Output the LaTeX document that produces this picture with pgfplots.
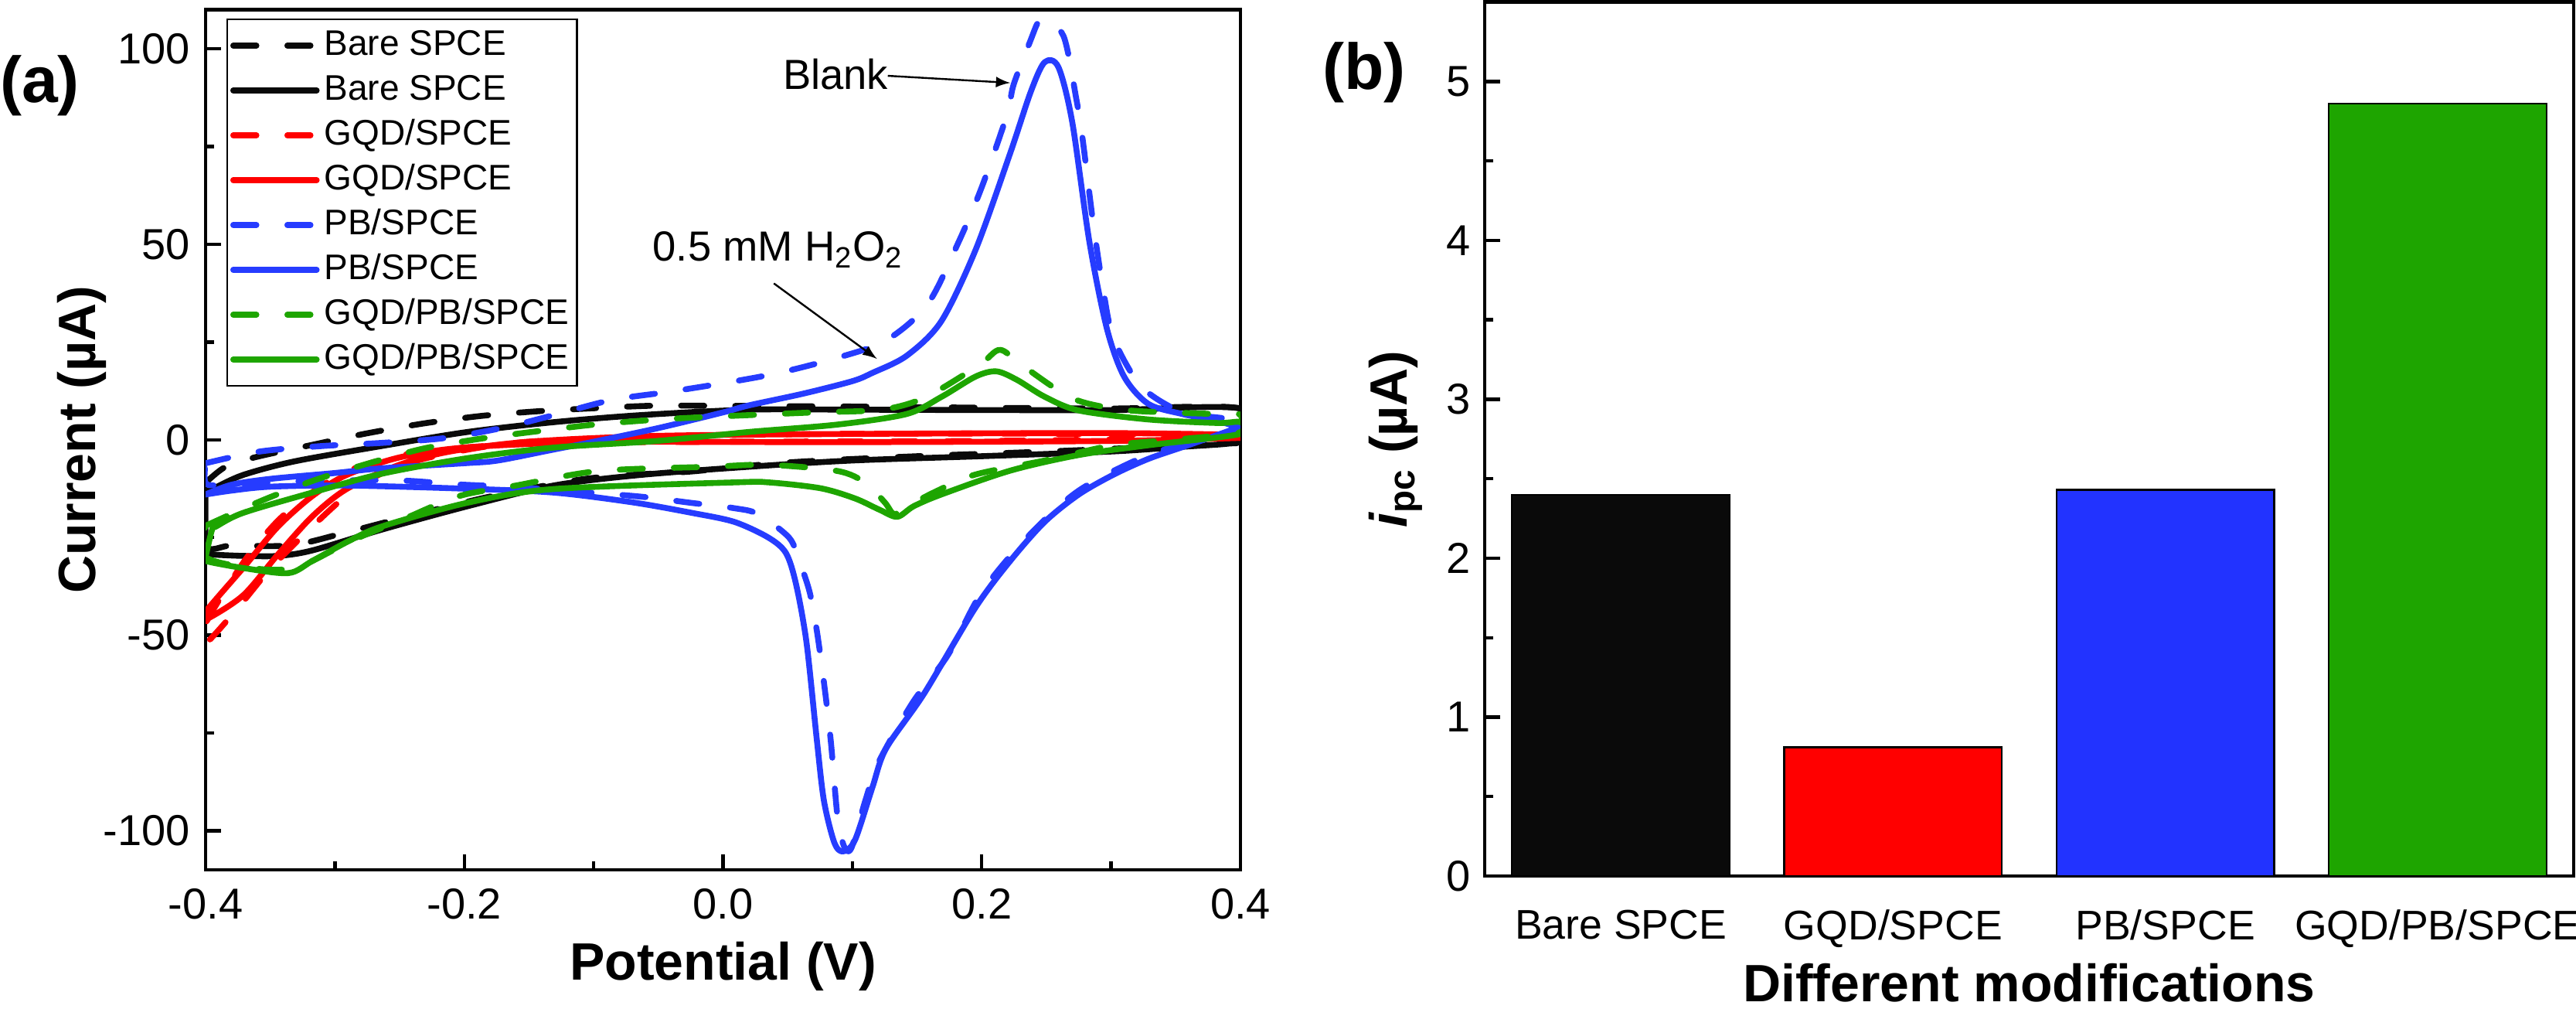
\documentclass[border=0pt]{standalone}
\usepackage{fontspec}
\setmainfont{Liberation Sans}
\usepackage{pgfplots}
\pgfplotsset{compat=1.18}
\definecolor{cvblack}{RGB}{10,10,10}
\definecolor{cvred}{RGB}{255,0,0}
\definecolor{cvblue}{RGB}{38,60,255}
\definecolor{cvgreen}{RGB}{30,165,0}
\definecolor{barblue}{RGB}{34,51,255}
\pgfplotsset{
  cvsolid/.style={line width=1.9pt, line cap=round, line join=round, smooth, tension=0.5},
  cvdash/.style={line width=1.9pt, line cap=round, line join=round, smooth, tension=0.5, dash pattern=on 7.5pt off 10pt},
}
\begin{document}
\begin{tikzpicture}
\useasboundingbox (0,0) rectangle (833.25pt,326.25pt);
% ---------------- panel (a) ----------------
\begin{axis}[
  at={(66.5pt,45pt)}, anchor=south west,
  scale only axis, width=334.75pt, height=278.1pt,
  xmin=-0.4, xmax=0.4, ymin=-110, ymax=110,
  xtick={-0.4,-0.2,0,0.2,0.4},
  xticklabels={-0.4,-0.2,0.0,0.2,0.4},
  minor xtick={-0.3,-0.1,0.1,0.3},
  ytick={-100,-50,0,50,100},
  minor ytick={-75,-25,25,75},
  tick align=inside,
  xtick pos=bottom, ytick pos=left,
  major tick length=5pt, minor tick length=2.8pt,
  every tick/.style={line width=1.1pt, black},
  axis line style={line width=1.1pt},
  /pgf/number format/assume math mode=true,
  ticklabel style={font=\fontsize{14}{16}\selectfont},
  yticklabel style={xshift=-1.6pt},
  xticklabel style={yshift=-2.6pt},
  xlabel={\bfseries Potential (V)},
  ylabel={\bfseries Current (µA)},
  label style={font=\fontsize{17}{19}\selectfont},
  xlabel style={at={(axis description cs:0.5,-0.112)}, anchor=center},
  ylabel style={at={(axis description cs:-0.1195,0.5)}, anchor=center},
  clip mode=individual,
  legend style={at={(axis description cs:0.02,0.99)}, anchor=north west,
    draw=black, line width=0.6pt, font=\fontsize{11.5}{13}\selectfont,
    inner xsep=1pt, inner ysep=1.5pt, row sep=0.5pt,
    nodes={inner sep=1.5pt, text height=8.6pt, text depth=2.4pt},
    /tikz/every even column/.append style={column sep=1pt}},
  legend cell align=left,
  legend image code/.code={\draw[#1, smooth=false] (0pt,0pt) -- (27pt,0pt);},
]
% Bare SPCE dashed
\addplot[cvdash, color=cvblack] coordinates {
(-0.4,-11) (-0.385,-7) (-0.362,-4.5) (-0.319,-1.4) (-0.276,1.6) (-0.231,4.2) (-0.187,6.1) (-0.143,7.3) (-0.0977,8.1) (-0.055,8.7) (-0.0096,8.7) (0.1,8.5) (0.2,8.2) (0.3,8) (0.4,8)
(0.4,0) (0.35,-1.5) (0.25,-3) (0.15,-4.2) (0.05,-5.8) (-0.024,-8.1) (-0.067,-8.9) (-0.111,-10.2) (-0.18,-14.5) (-0.248,-20) (-0.2925,-23.8) (-0.334,-27) (-0.379,-27) (-0.4,-27) (-0.4,-11)
};
\addlegendentry{Bare SPCE}
% Bare SPCE solid
\addplot[cvsolid, color=cvblack] coordinates {
(-0.4,-13) (-0.395,-12.6) (-0.371,-9) (-0.331,-5.5) (-0.264,-1.6) (-0.1975,2) (-0.131,4.5) (-0.064,6.3) (0.02,7.7) (0.1,7.7) (0.2,7.6) (0.3,7.6) (0.4,8)
(0.4,0) (0.39,-1) (0.355,-1.8) (0.3,-3) (0.2,-4.2) (0.1,-5.3) (0.02,-6.9) (-0.064,-9) (-0.131,-11.7) (-0.1975,-17) (-0.264,-23) (-0.3175,-28.3) (-0.344,-29.7) (-0.371,-29.7) (-0.398,-29.3) (-0.4,-29) (-0.4,-13)
};
\addlegendentry{Bare SPCE}
% GQD/SPCE dashed
\addplot[cvdash, color=cvred] coordinates {
(0.4,0.5) (0.2,-0.3) (0,-0.5) (-0.13,-0.8) (-0.2,-2) (-0.25,-4) (-0.29,-8) (-0.32,-14) (-0.345,-21) (-0.37,-31) (-0.4,-47)
(-0.4,-52) (-0.375,-43) (-0.35,-33) (-0.32,-23) (-0.29,-14) (-0.26,-8) (-0.22,-4) (-0.15,-0.5) (0,1.2) (0.2,1.6) (0.4,1.2) (0.4,0.5)
};
\addlegendentry{GQD/SPCE}
% GQD/SPCE solid
\addplot[cvsolid, color=cvred] coordinates {
(0.4,0.5) (0.3,-0.3) (0.1,-0.6) (-0.1,-0.6) (-0.2,-2) (-0.25,-4.5) (-0.291,-9) (-0.3175,-14.4) (-0.344,-22.2) (-0.371,-32.8) (-0.4,-44)
(-0.4,-46) (-0.371,-39.8) (-0.344,-29.3) (-0.3175,-19.6) (-0.291,-12.6) (-0.251,-6.5) (-0.211,-3) (-0.15,-0.5) (-0.05,1) (0.1,1.5) (0.3,1.7) (0.4,1.2) (0.4,0.5)
};
\addlegendentry{GQD/SPCE}
% PB/SPCE dashed
\addplot[cvdash, color=cvblue] coordinates {
(-0.4,-6) (-0.358,-3) (-0.31,-1.6) (-0.264,-0.8) (-0.216,0.4) (-0.171,3) (-0.131,6.3) (-0.0857,10.2) (-0.043,12.2) (0.0025,14.6) (0.043,17.1) (0.0887,21) (0.126,25.4) (0.158,34.6) (0.182,50.5) (0.2,64.6) (0.2194,83) (0.2247,90.9) (0.238,102.4) (0.2434,106.7) (0.248,107.5) (0.2633,103.2) (0.273,87.4) (0.278,76.9) (0.286,55.8) (0.294,38.2) (0.302,25.9) (0.3234,13.6) (0.355,7) (0.3823,5.7) (0.4,5)
(0.4,3) (0.382,1.2) (0.3287,-3.9) (0.275,-13) (0.235,-25) (0.2,-39) (0.174,-55) (0.147,-67) (0.1207,-82.2) (0.11,-92.3) (0.0994,-104.3) (0.094,-104.3) (0.0887,-97) (0.0833,-77) (0.078,-62) (0.0726,-49) (0.067,-39) (0.059,-31) (0.051,-25) (0.027,-19) (0.0087,-17.5) (-0.0255,-16.1) (-0.0683,-14.4) (-0.1575,-12.2) (-0.2056,-11.4) (-0.251,-10.4) (-0.32,-10.5) (-0.387,-11.6) (-0.4,-11) (-0.4,-6)
};
\addlegendentry{PB/SPCE}
% PB/SPCE solid
\addplot[cvsolid, color=cvblue] coordinates {
(-0.4,-14) (-0.38,-11.5) (-0.35,-10) (-0.3,-8.5) (-0.264,-7.3) (-0.2,-6) (-0.174,-5.3) (-0.131,-2.5) (-0.1,-0.5) (-0.05,3) (0,7) (0.02,8.8) (0.062,11.8) (0.1,15) (0.1154,17.1) (0.142,21.5) (0.1687,30.3) (0.1954,48.7) (0.222,73.3) (0.238,89.1) (0.2487,96.6) (0.2593,95.3) (0.27,81.2) (0.2833,50.5) (0.2967,28.5) (0.31,16.2) (0.3287,9.2) (0.355,6.6) (0.3823,4.8) (0.4,3)
(0.398,3.1) (0.382,1.2) (0.355,-1.9) (0.3287,-4.9) (0.302,-8.9) (0.275,-14) (0.2487,-21) (0.222,-31) (0.195,-43) (0.1553,-65) (0.126,-79) (0.1154,-89) (0.102,-102.4) (0.0927,-105.3) (0.086,-103) (0.078,-92.3) (0.0726,-77) (0.0646,-52) (0.0565,-37) (0.0487,-29) (0.035,-25) (0.0087,-21) (-0.024,-18.7) (-0.07,-16) (-0.131,-13.5) (-0.2,-12.5) (-0.291,-11.7) (-0.35,-12) (-0.38,-13) (-0.4,-14)
};
\addlegendentry{PB/SPCE}
% GQD/PB/SPCE dashed
\addplot[cvdash, color=cvgreen] coordinates {
(-0.4,-22) (-0.3576,-15.7) (-0.3163,-10.4) (-0.2736,-6) (-0.231,-2.2) (-0.187,0.3) (-0.143,2.2) (-0.0989,3.9) (-0.0535,5.1) (-0.008,5.9) (0.07,7) (0.1225,7.7) (0.156,10.8) (0.198,19.1) (0.214,23) (0.231,19.1) (0.27,10.6) (0.3087,7.7) (0.353,6.9) (0.39,6.5) (0.4,6.3)
(0.4,2) (0.355,0.2) (0.302,-1.4) (0.2487,-5.3) (0.195,-8.9) (0.1634,-13.4) (0.14,-17.5) (0.132,-19) (0.125,-16) (0.11,-11) (0.0887,-8) (0.035,-6.4) (-0.0096,-6.9) (-0.0963,-8) (-0.16,-11.7) (-0.204,-14.4) (-0.247,-20.3) (-0.287,-25.8) (-0.3283,-32.5) (-0.36,-33) (-0.4,-30) (-0.4,-22)
};
\addlegendentry{GQD/PB/SPCE}
% GQD/PB/SPCE solid
\addplot[cvsolid, color=cvgreen] coordinates {
(-0.4,-30) (-0.395,-23) (-0.392,-22.2) (-0.371,-18.7) (-0.3175,-13.5) (-0.264,-8.7) (-0.1975,-4.7) (-0.131,-2) (-0.051,-0.3) (0.02,2) (0.0887,3.9) (0.142,6.6) (0.169,11) (0.1954,16.2) (0.2114,17.5) (0.2274,15.3) (0.2487,11) (0.275,7.5) (0.3287,5.2) (0.382,4.3) (0.4,4.5)
(0.4,1.5) (0.3287,-1.4) (0.275,-3.9) (0.222,-7.9) (0.1687,-14) (0.1474,-17) (0.1347,-19.7) (0.121,-17.9) (0.102,-15) (0.0754,-12.4) (0.0354,-10.9) (0.0087,-10.9) (-0.131,-12.6) (-0.1975,-16.1) (-0.264,-22.2) (-0.291,-26.2) (-0.3175,-31) (-0.336,-34.1) (-0.371,-32.8) (-0.4,-31) (-0.4,-30)
};
\addlegendentry{GQD/PB/SPCE}
% annotations
\node[font=\fontsize{13.6}{16}\selectfont] at (axis cs:0.087,93.5) {Blank};
\draw[-latex, line width=0.6pt] (axis cs:0.1274,93.1) -- (axis cs:0.222,91.3);
\node[font=\fontsize{13.6}{16}\selectfont] at (axis cs:0.0427,48.6) {0.5 mM H\textsubscript{2}O\textsubscript{2}};
\draw[-latex, line width=0.6pt] (axis cs:0.0393,40) -- (axis cs:0.119,20.7);
\end{axis}
\node[font=\fontsize{21}{23}\selectfont\bfseries] at (12.9pt,298.6pt) {(a)};
% ---------------- panel (b) ----------------
\begin{axis}[
  at={(480.25pt,43pt)}, anchor=south west,
  scale only axis, width=352.25pt, height=282.6pt,
  xmin=-0.5, xmax=3.5, ymin=0, ymax=5.5,
  xtick={0,1,2,3},
  xticklabels={Bare SPCE,GQD/SPCE,PB/SPCE,GQD/PB/SPCE},
  major x tick style={draw=none},
  ytick={0,1,2,3,4,5},
  minor ytick={0.5,1.5,2.5,3.5,4.5},
  tick align=inside,
  ytick pos=left,
  major tick length=5pt, minor tick length=2.8pt,
  every tick/.style={line width=1.1pt, black},
  axis line style={line width=1.1pt},
  /pgf/number format/assume math mode=true,
  yticklabel style={font=\fontsize{14}{16}\selectfont, xshift=-1pt},
  xticklabel style={font=\fontsize{13.4}{16}\selectfont, yshift=-2.5pt},
  xlabel={\bfseries Different modifications},
  ylabel={{\bfseries\itshape i}\textsubscript{\bfseries pc}\bfseries\ (µA)},
  label style={font=\fontsize{17}{19}\selectfont},
  xlabel style={at={(axis description cs:0.5,-0.122)}, anchor=center},
  ylabel style={at={(axis description cs:-0.0816,0.5)}, anchor=center},
  ybar, bar width=0.8, bar shift=0pt,
]
\addplot[fill=cvblack, draw=black, line width=0.6pt] coordinates {(0,2.40)};
\addplot[fill=cvred, draw=black, line width=0.6pt] coordinates {(1,0.81)};
\addplot[fill=barblue, draw=black, line width=0.6pt] coordinates {(2,2.43)};
\addplot[fill=cvgreen, draw=black, line width=0.6pt] coordinates {(3,4.86)};
\end{axis}
\node[font=\fontsize{21}{23}\selectfont\bfseries] at (441.25pt,302.75pt) {(b)};
\end{tikzpicture}
\end{document}
